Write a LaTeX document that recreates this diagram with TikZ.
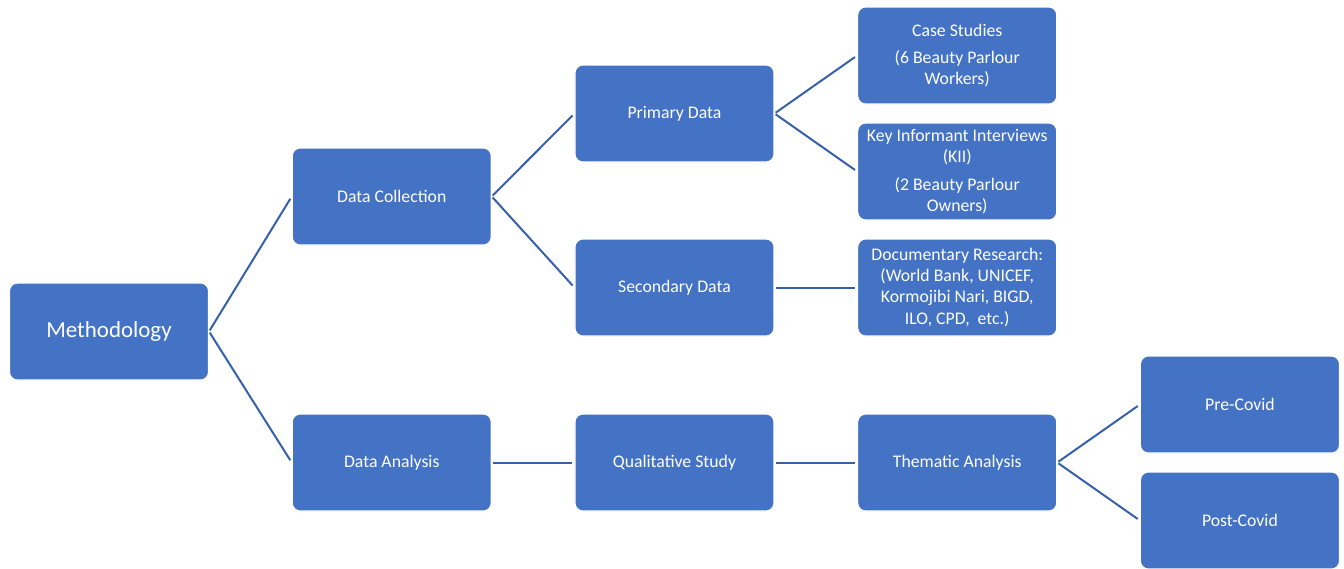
\documentclass[tikz,border=0pt]{standalone}
\usepackage{fontspec}
\setmainfont{Carlito}
\usepackage{xcolor}
\usepackage{tikz}
\usetikzlibrary{positioning}
\definecolor{boxblue}{HTML}{4472C4}
\definecolor{lnblue}{HTML}{3760AA}
\tikzset{
  box/.style={draw=white,line width=0.8pt,fill=boxblue,rounded corners=6pt,
              text=white,align=center,inner sep=2pt,
              minimum width=149.25pt,minimum height=72.75pt,
              font=\fontsize{13.3}{15.8}\selectfont},
  ln/.style={draw=lnblue,line width=1.5pt,shorten <=1pt,shorten >=2pt},
}

\begin{document}
\begin{tikzpicture}[x=0.75pt,y=-0.75pt,node distance=62pt]
\useasboundingbox (0,0) rectangle (1344,568);
% root
\node[box,font=\fontsize{17.2}{20}\selectfont] (meth) at (109,331.5) {Methodology};
% level 1
\node[box,right=of meth,yshift=101.25pt] (coll) {Data Collection};
\node[box,right=of meth,yshift=-98.25pt] (anal) {Data Analysis};
% level 2
\node[box,right=of coll,yshift=62.25pt] (prim) {Primary Data};
\node[box,right=of coll,yshift=-68.25pt] (sec) {Secondary Data};
\node[box,right=of anal] (qual) {Qualitative Study};
% level 3
\node[box,right=of prim,yshift=43.5pt] (case) {Case Studies\\[5pt](6 Beauty Parlour\\Workers)};
\node[box,right=of prim,yshift=-43.5pt] (kii) {Key Informant Interviews\\(KII)\\[5pt](2 Beauty Parlour\\Owners)};
\node[box,right=of sec] (doc) {Documentary Research:\\(World Bank, UNICEF,\\Kormojibi Nari, BIGD,\\ILO, CPD,\ \ etc.)};
\node[box,right=of qual] (them) {Thematic Analysis};
% level 4
\node[box,right=of them,yshift=43.5pt] (pre) {Pre-Covid};
\node[box,right=of them,yshift=-43.5pt] (post) {Post-Covid};
% links
\draw[ln] (meth.east) -- (coll.west);
\draw[ln] (meth.east) -- (anal.west);
\draw[ln] (coll.east) -- (prim.west);
\draw[ln] (coll.east) -- (sec.west);
\draw[ln] (anal.east) -- (qual.west);
\draw[ln] (prim.east) -- (case.west);
\draw[ln] (prim.east) -- (kii.west);
\draw[ln] (sec.east) -- (doc.west);
\draw[ln] (qual.east) -- (them.west);
\draw[ln] (them.east) -- (pre.west);
\draw[ln] (them.east) -- (post.west);
\end{tikzpicture}
\end{document}
